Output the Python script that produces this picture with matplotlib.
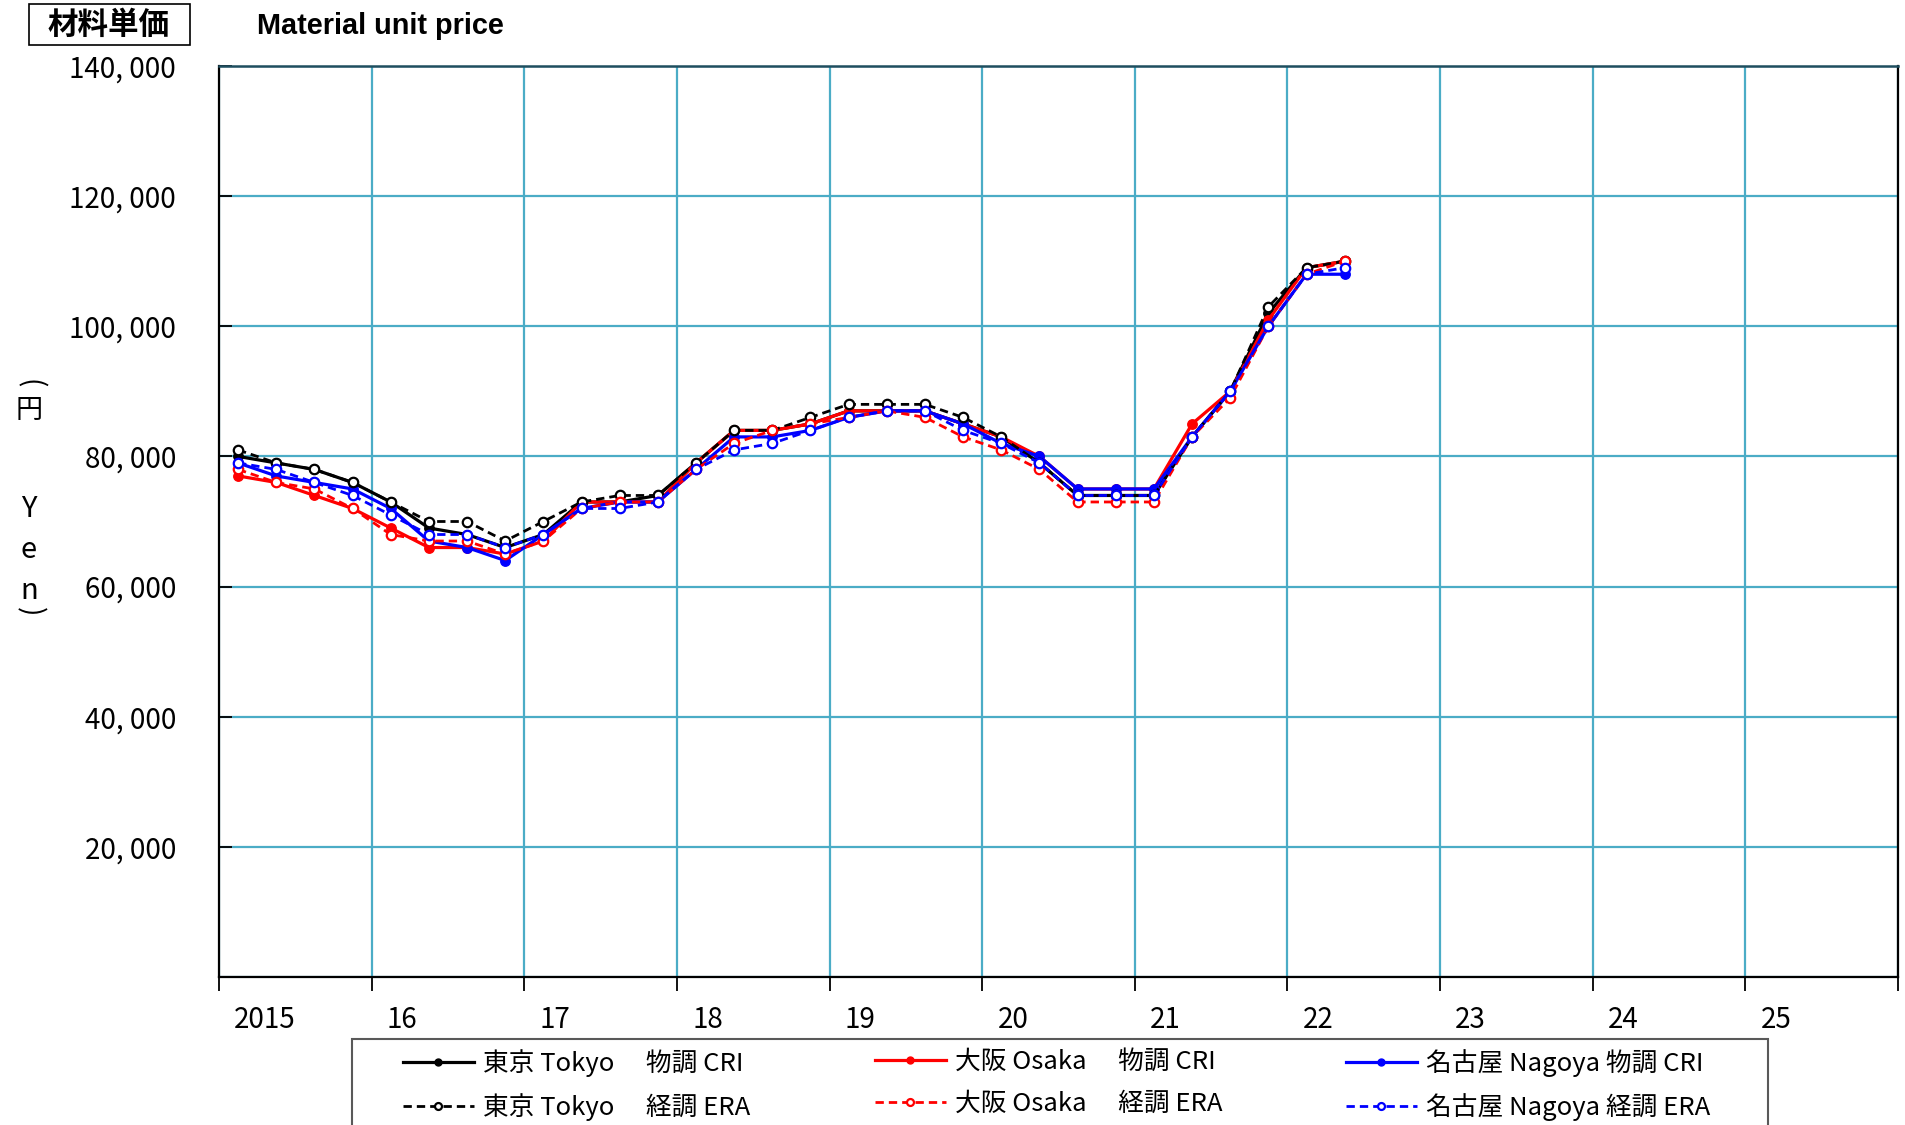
import matplotlib
matplotlib.use('Agg')
import matplotlib.pyplot as plt
from matplotlib import font_manager as fm
from matplotlib.patches import Rectangle
from matplotlib.ticker import FuncFormatter, FixedLocator

# ---------------- data ----------------
quarters = ['2015Q1', '2015Q2', '2015Q3', '2015Q4',
            '2016Q1', '2016Q2', '2016Q3', '2016Q4',
            '2017Q1', '2017Q2', '2017Q3', '2017Q4',
            '2018Q1', '2018Q2', '2018Q3', '2018Q4',
            '2019Q1', '2019Q2', '2019Q3', '2019Q4',
            '2020Q1', '2020Q2', '2020Q3', '2020Q4',
            '2021Q1', '2021Q2', '2021Q3', '2021Q4',
            '2022Q1', '2022Q2']

tokyo_cri = [80000, 79000, 78000, 76000, 73000, 69000, 68000, 66000,
             68000, 73000, 73000, 74000, 79000, 84000, 84000, 85000,
             87000, 87000, 87000, 85000, 83000, 79000, 74000, 74000,
             74000, 83000, 90000, 102000, 109000, 110000]
osaka_cri = [77000, 76000, 74000, 72000, 69000, 66000, 66000, 65000,
             67000, 73000, 73000, 73000, 79000, 84000, 84000, 85000,
             87000, 87000, 87000, 85000, 83000, 80000, 75000, 75000,
             75000, 85000, 90000, 101000, 109000, 110000]
nagoya_cri = [79000, 77000, 76000, 75000, 72000, 67000, 66000, 64000,
              68000, 72000, 73000, 73000, 78000, 83000, 83000, 84000,
              86000, 87000, 87000, 85000, 82000, 80000, 75000, 75000,
              75000, 83000, 90000, 100000, 108000, 108000]
tokyo_era = [81000, 79000, 78000, 76000, 73000, 70000, 70000, 67000,
             70000, 73000, 74000, 74000, 79000, 84000, 84000, 86000,
             88000, 88000, 88000, 86000, 83000, 79000, 74000, 74000,
             74000, 83000, 90000, 103000, 109000, 110000]
osaka_era = [78000, 76000, 75000, 72000, 68000, 67000, 67000, 65000,
             67000, 72000, 73000, 73000, 78000, 82000, 84000, 85000,
             86000, 87000, 86000, 83000, 81000, 78000, 73000, 73000,
             73000, 83000, 89000, 100000, 108000, 110000]
nagoya_era = [79000, 78000, 76000, 74000, 71000, 68000, 68000, 66000,
              68000, 72000, 72000, 73000, 78000, 81000, 82000, 84000,
              86000, 87000, 87000, 84000, 82000, 79000, 74000, 74000,
              74000, 83000, 90000, 100000, 108000, 109000]

year_ticks = [2015, 2016, 2017, 2018, 2019, 2020, 2021, 2022, 2023, 2024, 2025, 2026]
year_labels = ['2015', '16', '17', '18', '19', '20', '21', '22', '23', '24', '25']
y_ticks = [0, 20000, 40000, 60000, 80000, 100000, 120000, 140000]

labels = {
    'tokyo_cri': '東京 Tokyo　 物調 CRI',
    'tokyo_era': '東京 Tokyo　 経調 ERA',
    'osaka_cri': '大阪 Osaka　 物調 CRI',
    'osaka_era': '大阪 Osaka　 経調 ERA',
    'nagoya_cri': '名古屋 Nagoya 物調 CRI',
    'nagoya_era': '名古屋 Nagoya 経調 ERA',
}

# ---------------- fonts ----------------
names = {f.name for f in fm.fontManager.ttflist}
CJK = 'Noto Sans CJK JP'
if 'Liberation Sans Narrow' in names:
    tick_family = ['Liberation Sans Narrow', CJK]
    tick_size = 23
else:
    tick_family = [CJK, 'DejaVu Sans']
    tick_size = 20
plt.rcParams['font.family'] = [CJK, 'DejaVu Sans']

# ---------------- figure ----------------
W, H = 1905, 1125
fig = plt.figure(figsize=(W / 100, H / 100), dpi=100)
ax = fig.add_axes([219 / W, 1 - 977 / H, (1898 - 219) / W, (977 - 66) / H])

def qpos(q):
    year = int(q[:4])
    n = int(q[-1])
    return year + (n - 0.5) / 4

xs = [qpos(q) for q in quarters]

grid_c = '#4BACC6'
solid_kw = dict(lw=2.3, marker='o', ms=6.8, linestyle='-')
dash_kw = dict(lw=2.0, marker='o', ms=6.8, linestyle=(0, (3, 1.8)),
               markerfacecolor='white', markeredgewidth=1.6)

l_tc, = ax.plot(xs, tokyo_cri, color='black', label=labels['tokyo_cri'], zorder=3, **solid_kw)
l_oc, = ax.plot(xs, osaka_cri, color='#FF0000', label=labels['osaka_cri'], zorder=3, **solid_kw)
l_nc, = ax.plot(xs, nagoya_cri, color='#0000FF', label=labels['nagoya_cri'], zorder=3, **solid_kw)
l_te, = ax.plot(xs, tokyo_era, color='black', label=labels['tokyo_era'], zorder=4, **dash_kw)
l_oe, = ax.plot(xs, osaka_era, color='#FF0000', label=labels['osaka_era'], zorder=4, **dash_kw)
l_ne, = ax.plot(xs, nagoya_era, color='#0000FF', label=labels['nagoya_era'], zorder=4, **dash_kw)

ax.set_xlim(year_ticks[0], year_ticks[-1])
ax.set_ylim(0, 140000)

# x axis: major ticks at year boundaries, labels slightly right of boundary
ax.xaxis.set_major_locator(FixedLocator(year_ticks))
ax.xaxis.set_major_formatter(FuncFormatter(lambda v, p: ''))
ax.set_xticks([y + 0.1 for y in year_ticks[:-1]], minor=True)
ax.set_xticklabels(year_labels, minor=True, ha='left')
ax.tick_params(axis='x', which='major', direction='out', length=10, width=1.3, color='black')
ax.tick_params(axis='x', which='minor', length=0, pad=20)
for t in ax.get_xticklabels(minor=True):
    t.set_family(tick_family)
    t.set_fontsize(tick_size)

# y axis
ax.yaxis.set_major_locator(FixedLocator(y_ticks))
ax.yaxis.set_major_formatter(FuncFormatter(
    lambda v, p: '' if v == 0 else f"{int(v):,}".replace(',', ', ')))
ax.tick_params(axis='y', which='major', direction='in', length=9, width=1.3, pad=31)
for t in ax.get_yticklabels():
    t.set_family(tick_family)
    t.set_fontsize(tick_size)

ax.grid(True, which='major', color=grid_c, lw=1.6)
ax.set_axisbelow(True)
for side in ['left', 'bottom', 'right']:
    ax.spines[side].set_color('black')
    ax.spines[side].set_linewidth(1.6)
ax.spines['top'].set_color('#1F4E5F')
ax.spines['top'].set_linewidth(1.8)

# ---------------- titles ----------------
fig.text(108.5 / W, 1 - 25 / H, '材料単価', ha='center', va='center',
         fontsize=22, fontweight='bold', family=[CJK])
fig.patches.append(Rectangle((29 / W, 1 - 45 / H), (190 - 29) / W, (45 - 4) / H,
                             transform=fig.transFigure, fill=False,
                             edgecolor='black', lw=1.2))
fig.text(257 / W, 1 - 26 / H, 'Material unit price', ha='left', va='center',
         fontsize=20.8, fontweight='bold', family=['Liberation Sans', 'DejaVu Sans'])

# vertical y label (stacked characters)
ylab_chars = ['(', '円', 'Y', 'e', 'n', ')']
ylab_pos = [384, 410, 509, 550, 591, 612]
ylab_rot = [-90, 0, 0, 0, 0, -90]
ylab_size = [20, 19.5, 21, 21, 21, 20]
for ch, yp, rot, fs in zip(ylab_chars, ylab_pos, ylab_rot, ylab_size):
    fig.text(29 / W, 1 - yp / H, ch, ha='center', va='center', fontsize=fs,
             rotation=rot, family=[CJK])

# ---------------- legend ----------------
fig.patches.append(Rectangle((352 / W, -0.02), (1768 - 352) / W, 0.02 + (1125 - 1039) / H,
                             transform=fig.transFigure, fill=False,
                             edgecolor='#595959', lw=1.5))
col_x = [403, 875, 1346]
pairs = [(l_tc, l_te), (l_oc, l_oe), (l_nc, l_ne)]
for cx, (a, b) in zip(col_x, pairs):
    leg = fig.legend([a, b], [a.get_label(), b.get_label()], loc='upper left',
                     bbox_to_anchor=(cx / W, 1 - 1049 / H), frameon=False,
                     borderpad=0, borderaxespad=0, handlelength=2.75, handletextpad=0.35,
                     labelspacing=0.62, prop={'family': [CJK], 'size': 18.5})
    for ln in leg.get_lines():
        ln.set_markersize(5)

fig.savefig('out.png', dpi=100)
